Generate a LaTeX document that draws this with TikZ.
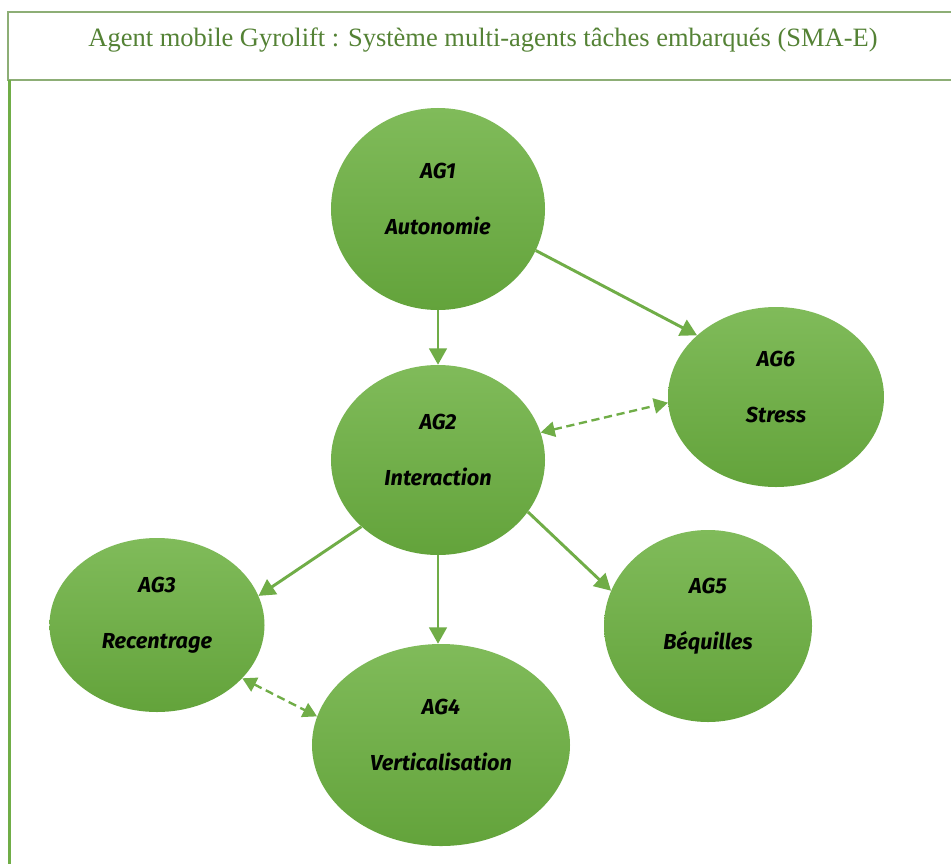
\documentclass[tikz,border=0pt]{standalone}
\usepackage{fontspec}
\setmainfont{Liberation Serif}
\newfontfamily\agfont{Fira Sans}
\usetikzlibrary{shapes.geometric, arrows.meta}
\definecolor{aggreen}{HTML}{70AD47}
\definecolor{agtop}{HTML}{80BB5A}
\definecolor{agbottom}{HTML}{63A33B}
\definecolor{titlegreen}{HTML}{548235}
\definecolor{framegreen}{HTML}{8DAE76}

\begin{document}
\begin{tikzpicture}[
    x=0.03cm, y=-0.03cm,
    agent/.style={ellipse, top color=agtop, bottom color=agbottom, draw=none, inner sep=0pt},
    agtext/.style={font=\agfont\bfseries\itshape\fontsize{18.5}{21}\selectfont, align=center, yshift=0.3cm},
    link/.style={aggreen, line width=2.5pt, -{Triangle[length=14pt, width=15pt]}},
    duallink/.style={aggreen, line width=2pt, dash pattern=on 7pt off 4pt,
        {Triangle[length=12pt, width=13pt]}-{Triangle[length=12pt, width=13pt]}}
]

% Page
\fill[white] (0,0) rectangle (951,864);
\useasboundingbox (0,0) rectangle (951,864);

% Header frame and title
\draw[framegreen, line width=1pt] (951,12) -- (8,12) -- (8,80) -- (951,80);
\draw[aggreen, line width=2.5pt] (9.5,80) -- (9.5,864);
\node[font=\fontsize{22.6}{26}\selectfont, text=titlegreen, anchor=base] (title) at (483,46)
    {Agent mobile Gyrolift : Système multi-agents tâches embarqués (SMA-E)};

% Agents
\node[agent, minimum width=6.42cm, minimum height=6.06cm,
    label={[agtext]center:{AG1\\[27pt]Autonomie}}] (ag1) at (438,209) {};
\node[agent, minimum width=6.42cm, minimum height=5.70cm,
    label={[agtext]center:{AG2\\[27pt]Interaction}}] (ag2) at (438,460) {};
\node[agent, minimum width=6.48cm, minimum height=5.40cm,
    label={[agtext]center:{AG6\\[27pt]Stress}}] (ag6) at (776,397) {};
\node[agent, minimum width=6.45cm, minimum height=5.22cm,
    label={[agtext]center:{AG3\\[27pt]Recentrage}}] (ag3) at (157,625) {};
\node[agent, minimum width=6.24cm, minimum height=5.76cm,
    label={[agtext]center:{AG5\\[27pt]Béquilles}}] (ag5) at (708,626) {};
\node[agent, minimum width=7.74cm, minimum height=6.06cm,
    label={[agtext]center:{AG4\\[27pt]Verticalisation}}] (ag4) at (441,745) {};

% Links
\draw[link] (ag1.south) -- (ag2.north);
\draw[link] (ag1.-23) -- (ag6.142);
\draw[link] (ag2.221) -- (ag3.16);
\draw[link] (ag2.south) -- (ag2.south |- ag4.north);
\draw[link] (ag2.-30) -- (ag5.160);
\draw[duallink] (ag2.15) -- (ag6.183);
\draw[duallink] (ag3.-32) -- (ag4.167);

\end{tikzpicture}
\end{document}
